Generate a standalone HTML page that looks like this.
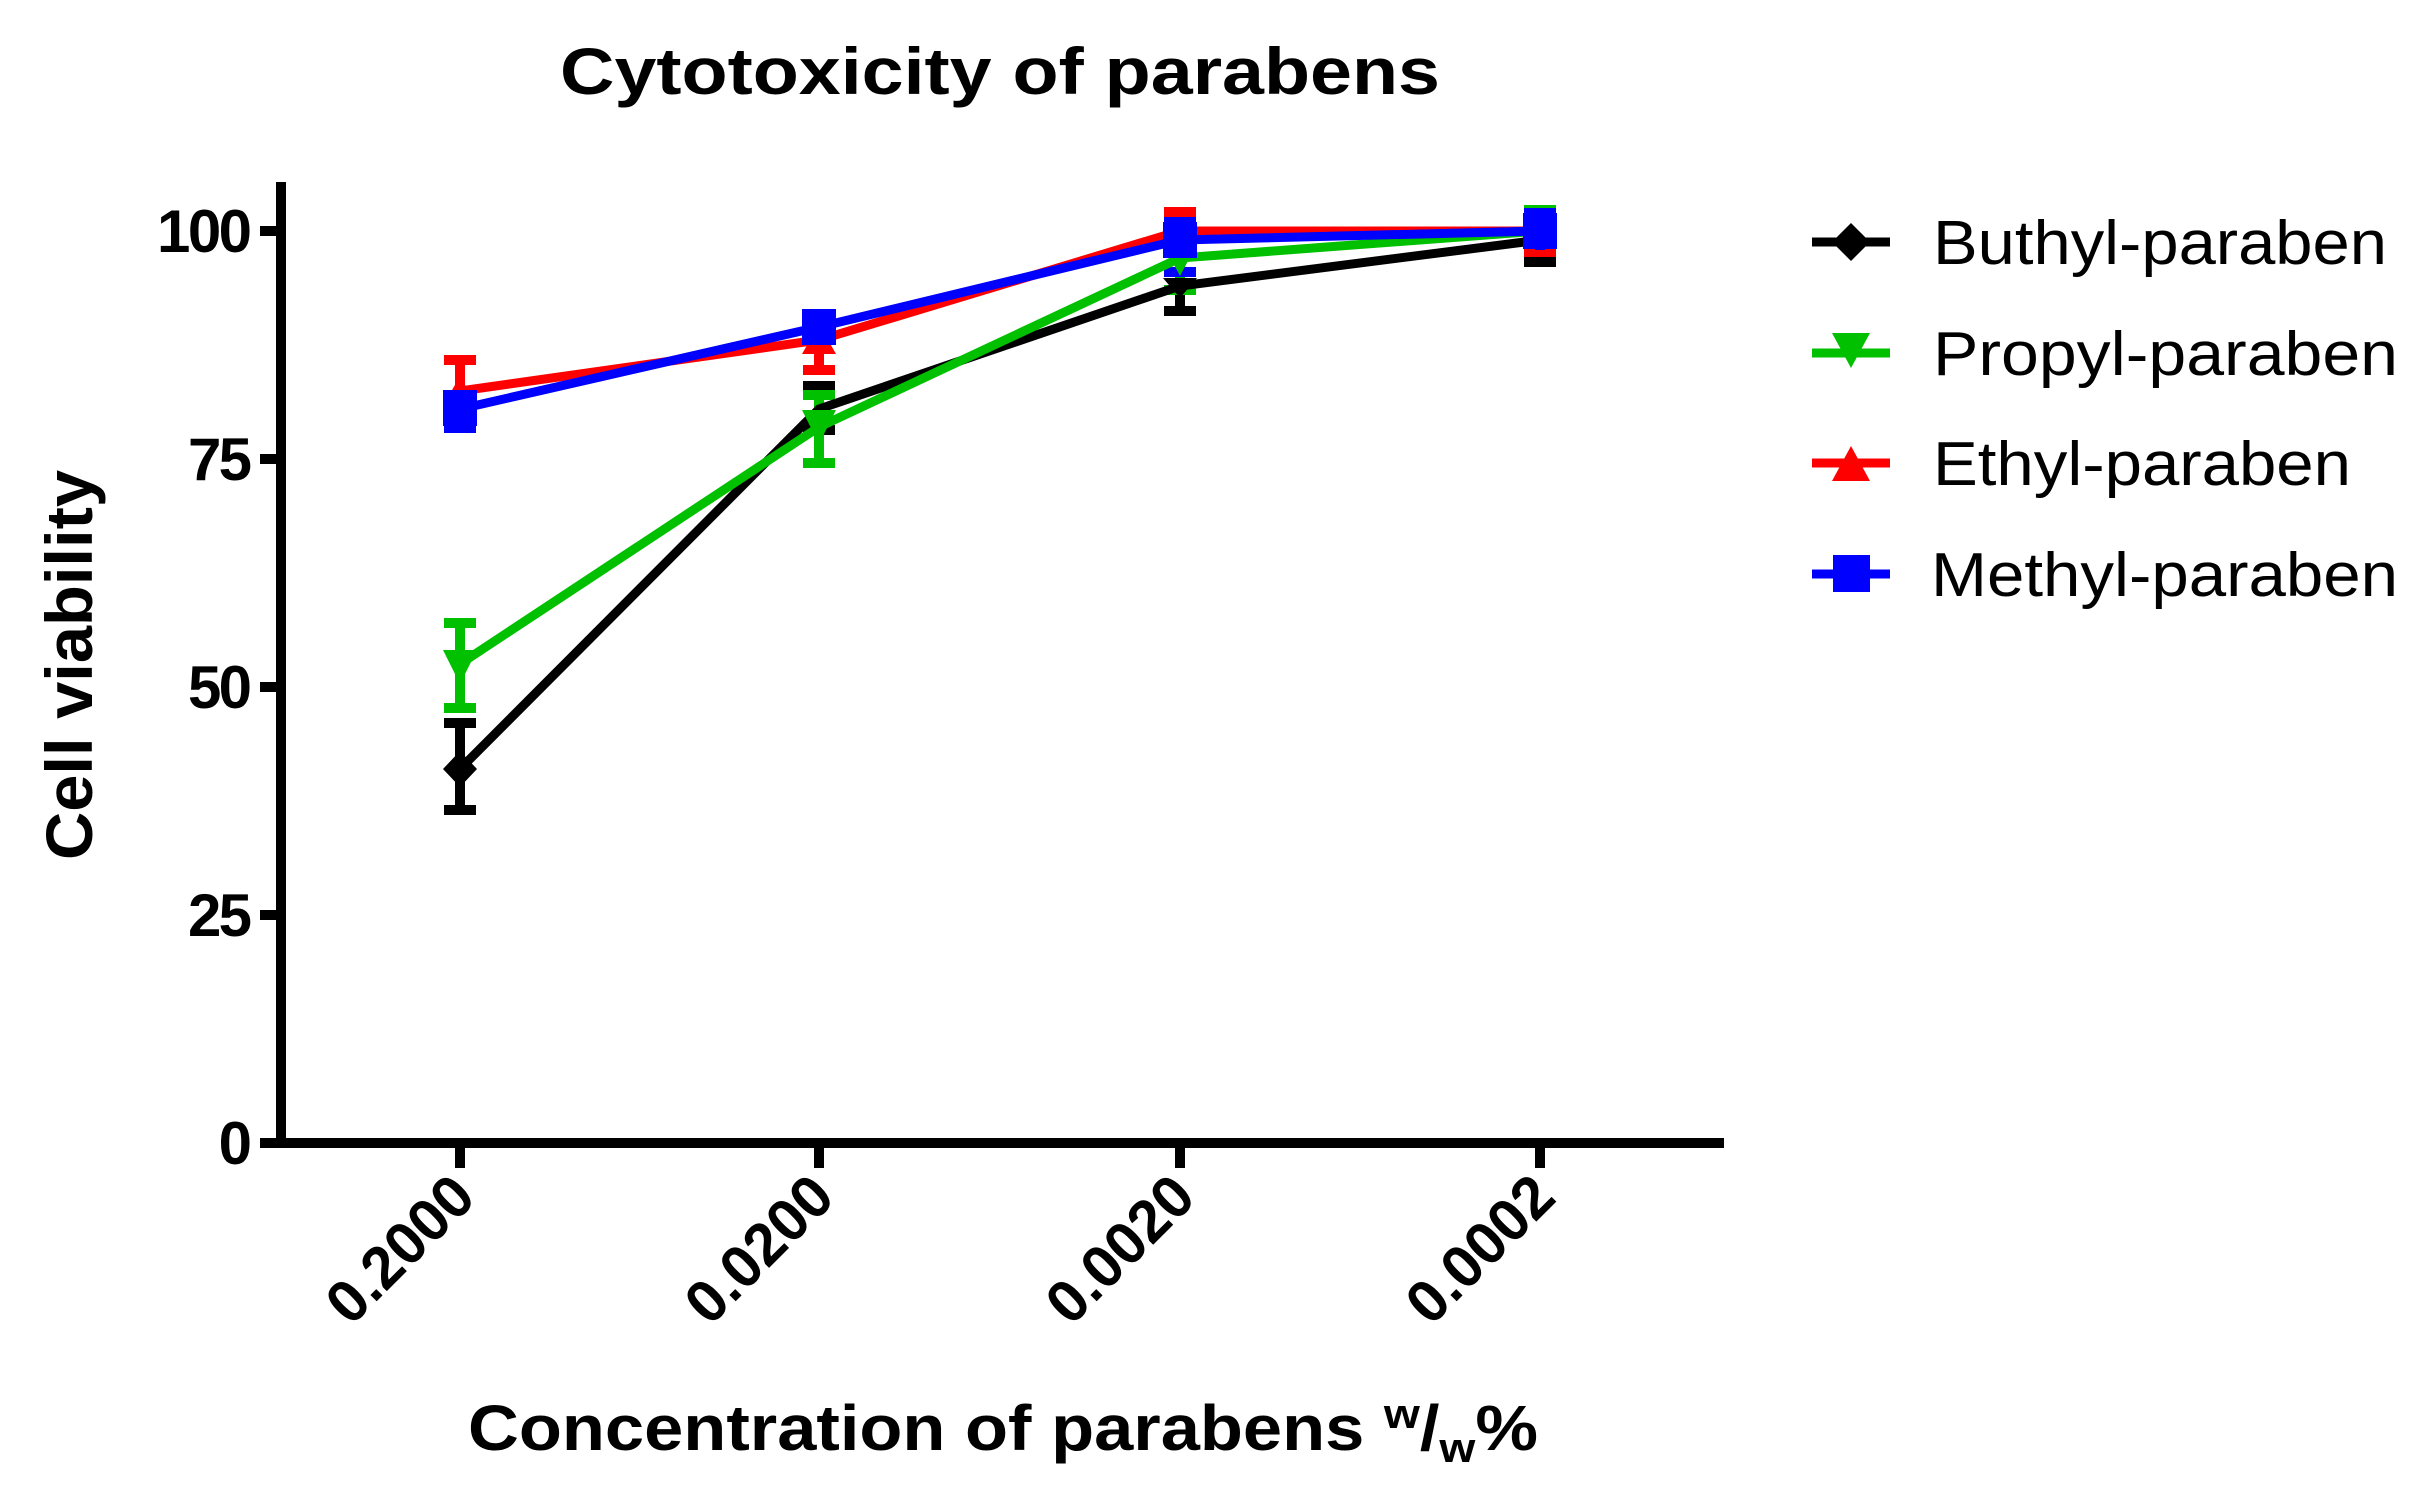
<!DOCTYPE html>
<html><head><meta charset="utf-8"><style>html,body{margin:0;padding:0;background:#fff}svg{display:block}</style></head>
<body>
<svg width="2419" height="1495" viewBox="0 0 2419 1495" xmlns="http://www.w3.org/2000/svg" font-family="Liberation Sans, Arial, sans-serif">
<rect width="2419" height="1495" fill="#fff"/>
<text x="1000" y="94" font-size="66" font-weight="bold" text-anchor="middle" textLength="880" lengthAdjust="spacingAndGlyphs">Cytotoxicity of parabens</text>
<g stroke="#000" stroke-width="10" fill="none">
<line x1="281" y1="182" x2="281" y2="1148"/>
<line x1="260" y1="1143" x2="1724" y2="1143"/>
<line x1="260" y1="231" x2="281" y2="231"/>
<line x1="260" y1="459" x2="281" y2="459"/>
<line x1="260" y1="687" x2="281" y2="687"/>
<line x1="260" y1="915" x2="281" y2="915"/>
<line x1="460" y1="1143" x2="460" y2="1168"/>
<line x1="819" y1="1143" x2="819" y2="1168"/>
<line x1="1180" y1="1143" x2="1180" y2="1168"/>
<line x1="1540" y1="1143" x2="1540" y2="1168"/>
</g>
<g font-size="60" font-weight="bold" text-anchor="end" lengthAdjust="spacingAndGlyphs">
<text x="252" y="252" textLength="95">100</text>
<text x="252" y="480" textLength="64">75</text>
<text x="252" y="708" textLength="64">50</text>
<text x="252" y="936" textLength="64">25</text>
<text x="252" y="1164" textLength="32">0</text>
</g>
<g font-size="60" font-weight="bold" text-anchor="end">
<text transform="translate(478,1200) rotate(-45)" textLength="180" lengthAdjust="spacingAndGlyphs">0.2000</text>
<text transform="translate(837,1200) rotate(-45)" textLength="180" lengthAdjust="spacingAndGlyphs">0.0200</text>
<text transform="translate(1198,1200) rotate(-45)" textLength="180" lengthAdjust="spacingAndGlyphs">0.0020</text>
<text transform="translate(1558,1200) rotate(-45)" textLength="180" lengthAdjust="spacingAndGlyphs">0.0002</text>
</g>
<text transform="translate(92,665) rotate(-90)" font-size="66" font-weight="bold" text-anchor="middle" textLength="390" lengthAdjust="spacingAndGlyphs">Cell viability</text>
<text x="468" y="1450" font-size="64" font-weight="bold" textLength="1070" lengthAdjust="spacingAndGlyphs">Concentration of parabens <tspan font-size="42" dy="-22">w</tspan><tspan dy="22">/</tspan><tspan font-size="42" dy="12">w</tspan><tspan dy="-12">%</tspan></text>

<g stroke-width="10" fill="none">
<g stroke="#000">
<path d="M460 723V810M444 723H476M444 810H476"/>
<path d="M819 386V430M803 386H835M803 430H835"/>
<path d="M1180 267V311M1164 311H1196"/>
<path d="M1540 240V262M1524 262H1556"/>
</g>
<g stroke="#00c000">
<path d="M460 623V708M444 623H476M444 708H476"/>
<path d="M819 395V463M803 395H835M803 463H835"/>
<path d="M1180 255V290M1164 290H1196"/>
<path d="M1540 210V250M1524 210H1556"/>
</g>
<g stroke="#ff0000">
<path d="M460 360V412M444 360H476M444 412H476"/>
<path d="M819 333V370M803 370H835"/>
<path d="M1180 212V245M1164 212H1196"/>
<path d="M1540 215V252M1524 252H1556"/>
</g>
<g stroke="#0000ff">
<path d="M460 395V428M444 428H476"/>
<path d="M819 316V345M803 316H835"/>
<path d="M1180 222V272M1164 222H1196M1164 272H1196"/>
<path d="M1540 213V250M1524 213H1556"/>
</g>
</g>
<g stroke-width="9" fill="none">
<polyline stroke="#000" points="460,769 819,409 1180,286 1540,240"/>
<polyline stroke="#00c000" points="460,664 819,427 1180,258 1540,231"/>
<polyline stroke="#ff0000" points="460,391 819,340 1180,231 1540,231"/>
<polyline stroke="#0000ff" points="460,409 819,327 1180,240 1540,231"/>
</g>
<polygon points="460,751 477,769 460,787 443,769" fill="#000"/>
<polygon points="443,407 477,407 460,425" fill="#000"/>
<polygon points="1163,278 1197,278 1180,298" fill="#000"/>
<polygon points="443,650 477,650 460,684" fill="#00c000"/>
<polygon points="802,410 836,410 819,444" fill="#00c000"/>
<polygon points="1163,244 1197,244 1180,276" fill="#00c000"/>
<polygon points="443,406 477,406 460,376" fill="#ff0000"/>
<polygon points="802,354 836,354 819,324" fill="#ff0000"/>
<rect x="443" y="390" width="34" height="36" fill="#0000ff"/>
<rect x="802" y="309" width="34" height="36" fill="#0000ff"/>
<rect x="1163" y="222" width="34" height="36" fill="#0000ff"/>
<rect x="1523" y="213" width="34" height="36" fill="#0000ff"/>

<g stroke-width="9">
<line x1="1812" y1="242" x2="1890" y2="242" stroke="#000"/>
<line x1="1812" y1="353" x2="1890" y2="353" stroke="#00c000"/>
<line x1="1812" y1="463" x2="1890" y2="463" stroke="#ff0000"/>
<line x1="1812" y1="574" x2="1890" y2="574" stroke="#0000ff"/>
</g>
<polygon points="1851,223 1870,242 1851,261 1832,242" fill="#000"/>
<polygon points="1832,333 1870,333 1851,368" fill="#00c000"/>
<polygon points="1832,481 1870,481 1851,446" fill="#ff0000"/>
<rect x="1833" y="555" width="37" height="37" fill="#0000ff"/>
<g font-size="62">
<text x="1933" y="264" textLength="454" lengthAdjust="spacingAndGlyphs">Buthyl-paraben</text>
<text x="1933" y="375" textLength="465" lengthAdjust="spacingAndGlyphs">Propyl-paraben</text>
<text x="1933" y="485" textLength="418" lengthAdjust="spacingAndGlyphs">Ethyl-paraben</text>
<text x="1931" y="596" textLength="467" lengthAdjust="spacingAndGlyphs">Methyl-paraben</text>
</g>
</svg>
</body></html>
